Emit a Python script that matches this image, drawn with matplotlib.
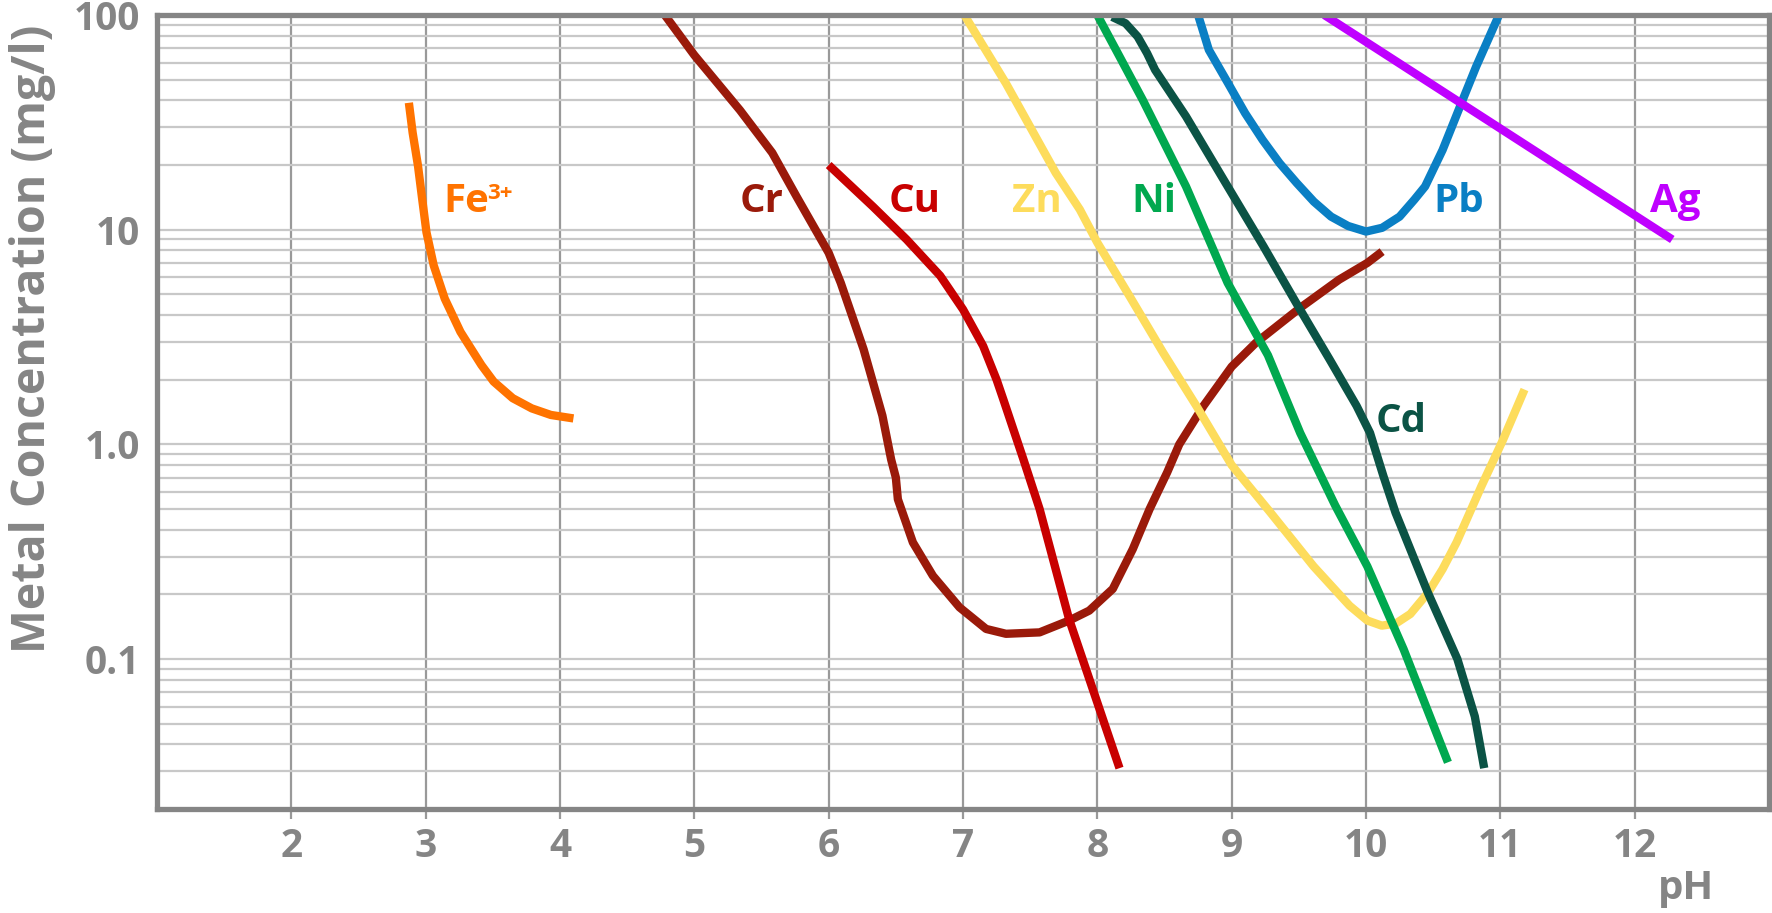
import matplotlib
matplotlib.use("Agg")
import matplotlib.pyplot as plt
from matplotlib.ticker import FixedLocator, LogLocator, NullFormatter, NullLocator

plt.rcParams['font.family'] = ['Open Sans', 'DejaVu Sans']
plt.rcParams['font.weight'] = 'bold'

GRAY = '#858585'

# curves (pH, mg/l)
fe_ph = [2.875, 2.903, 2.943, 2.974, 3.006, 3.06, 3.142, 3.259, 3.415, 3.506, 3.648, 3.79, 3.932, 4.10]
fe_c = [39, 28.3, 19.8, 13.9, 9.72, 6.81, 4.77, 3.34, 2.34, 1.96, 1.64, 1.47, 1.37, 1.32]

cr_ph = [4.78, 5.0, 5.34, 5.58, 5.76, 6.0, 6.09, 6.26, 6.40, 6.465, 6.50, 6.515, 6.627,
         6.776, 6.974, 7.172, 7.32, 7.57, 7.79, 7.94, 8.115, 8.264, 8.389, 8.52, 8.61,
         8.79, 9.0, 9.18, 9.505, 9.80, 10.01, 10.12]
cr_c = [100, 65, 36, 22.8, 14.3, 7.8, 5.65, 2.77, 1.36, 0.85, 0.7, 0.555, 0.349,
        0.244, 0.174, 0.138, 0.131, 0.133, 0.151, 0.168, 0.212, 0.325, 0.499, 0.74, 1.0,
        1.51, 2.3, 2.97, 4.3, 5.85, 7.0, 7.9]

cu_ph = [6.0, 6.33, 6.58, 6.83, 7.0, 7.15, 7.25, 7.30, 7.45, 7.57, 7.79, 8.165]
cu_c = [20, 12.8, 9.0, 6.1, 4.25, 2.87, 2.0, 1.62, 0.85, 0.5, 0.153, 0.031]

zn_ph = [7.01, 7.32, 7.69, 7.87, 8.0, 8.24, 8.49, 8.74, 9.0, 9.29, 9.61, 9.878, 10.01,
         10.117, 10.22, 10.33, 10.463, 10.57, 10.675, 10.86, 11.02, 11.18]
zn_c = [100, 48, 18.4, 12.4, 8.7, 4.9, 2.67, 1.5, 0.80, 0.48, 0.27, 0.177, 0.151,
        0.143, 0.146, 0.162, 0.204, 0.262, 0.35, 0.64, 1.05, 1.8]

ni_ph = [8.0, 8.34, 8.66, 8.97, 9.27, 9.51, 9.77, 10.01, 10.28, 10.61]
ni_c = [100, 40, 15.9, 5.65, 2.6, 1.13, 0.52, 0.27, 0.111, 0.033]

cd_ph = [8.11, 8.21, 8.30, 8.37, 8.43, 8.66, 8.94, 9.235, 9.48, 9.73, 9.93, 10.03, 10.13,
         10.22, 10.46, 10.57, 10.68, 10.81, 10.88]
cd_c = [98, 91.5, 79.3, 66.4, 55.5, 33.7, 17.1, 8.4, 4.56, 2.48, 1.51, 1.13, 0.71,
        0.48, 0.204, 0.143, 0.1, 0.054, 0.031]

pb_ph = [8.75, 8.83, 8.974, 9.10, 9.23, 9.357, 9.484, 9.612, 9.74, 9.867, 10.0, 10.12,
         10.25, 10.36, 10.44, 10.57, 10.70, 10.82, 10.99]
pb_c = [100, 68.8, 48, 34.9, 26.2, 20.4, 16.5, 13.5, 11.5, 10.4, 9.8, 10.2,
        11.5, 13.8, 15.9, 23.5, 37.5, 57.5, 100]

ag_ph = [9.69, 12.28]
ag_c = [100, 9.0]

curves = [
    (fe_ph, fe_c, '#ff7300'),
    (cr_ph, cr_c, '#9a1a0a'),
    (cu_ph, cu_c, '#c80000'),
    (zn_ph, zn_c, '#fddc5c'),
    (ni_ph, ni_c, '#00a84f'),
    (cd_ph, cd_c, '#0b5345'),
    (pb_ph, pb_c, '#0a7fc4'),
    (ag_ph, ag_c, '#bf00ff'),
]

# label text, pH (centre), conc (baseline), colour
labels = [
    ('Cr', 5.50, 12.1, '#9a1a0a'),
    ('Cu', 6.64, 12.1, '#c80000'),
    ('Zn', 7.55, 12.1, '#fddc5c'),
    ('Ni', 8.42, 12.1, '#00a84f'),
    ('Pb', 10.69, 12.1, '#0a7fc4'),
    ('Ag', 12.30, 12.1, '#bf00ff'),
    ('Cd', 10.26, 1.14, '#0b5345'),
]

xticks = [2, 3, 4, 5, 6, 7, 8, 9, 10, 11, 12]
yticks = [0.1, 1.0, 10, 100]
ytick_labels = ['0.1', '1.0', '10', '100']

fig = plt.figure(figsize=(17.72, 9.13), dpi=100)
ax = fig.add_axes([157 / 1772, 1 - 809 / 913, (1769 - 157) / 1772, (809 - 15) / 913])

ax.set_yscale('log')
ax.set_xlim(1, 13)
ax.set_ylim(0.02, 100)

# grid: light horizontals at every log step, darker verticals at each pH
ax.yaxis.set_major_locator(FixedLocator(yticks))
ax.yaxis.set_minor_locator(LogLocator(base=10, subs=range(2, 10), numticks=20))
ax.yaxis.set_minor_formatter(NullFormatter())
ax.set_yticklabels(ytick_labels)
ax.grid(True, which='both', axis='y', color='#c8c8c8', linewidth=1.6)
ax.set_xticks(xticks)
ax.grid(True, which='major', axis='x', color='#999999', linewidth=1.6)
ax.xaxis.set_minor_locator(NullLocator())
ax.set_axisbelow(True)

ax.tick_params(axis='y', which='both', length=0, pad=12, labelsize=28, labelcolor=GRAY)
ax.tick_params(axis='x', which='major', length=7, width=1.6, color='#999999',
               pad=6, labelsize=28, labelcolor=GRAY)

for s in ax.spines.values():
    s.set_color(GRAY)
    s.set_linewidth(3.8)

for ph, c, col in curves:
    ax.plot(ph, c, color=col, linewidth=6, solid_capstyle='butt', solid_joinstyle='round')

ax.text(3.13, 12.1, 'Fe', color='#ff7300', fontsize=29, ha='left', va='baseline')
ax.text(3.46, 13.9, '3+', color='#ff7300', fontsize=16, ha='left', va='baseline')
for txt, x, y, col in labels:
    ax.text(x, y, txt, color=col, fontsize=29, ha='center', va='baseline')

fig.text(33 / 1772, 1 - 339 / 913, 'Metal Concentration (mg/l)', rotation=90,
         ha='center', va='center', fontsize=33.5, color=GRAY)
fig.text(1686 / 1772, 1 - 888 / 913, 'pH', ha='center', va='center',
         fontsize=29, color=GRAY)

fig.savefig('out.png', dpi=100)
